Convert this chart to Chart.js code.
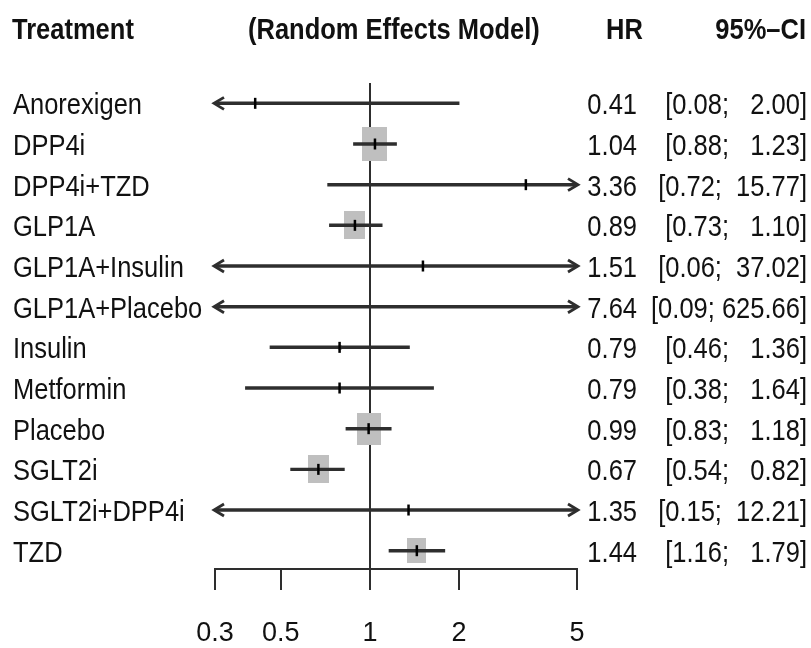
<!DOCTYPE html>
<html>
<head>
<meta charset="utf-8">
<script src="https://cdn.jsdelivr.net/npm/chart.js@4"></script>
<style>
  html, body { margin: 0; padding: 0; background: #fff; }
  #wrap { width: 811px; height: 648px; }
</style>
</head>
<body>
<div id="wrap"><canvas id="forest" width="811" height="648"></canvas></div>
<script>
// dados
const treatments = ["Anorexigen", "DPP4i", "DPP4i+TZD", "GLP1A", "GLP1A+Insulin", "GLP1A+Placebo",
  "Insulin", "Metformin", "Placebo", "SGLT2i", "SGLT2i+DPP4i", "TZD"];
const hr = [0.41, 1.04, 3.36, 0.89, 1.51, 7.64, 0.79, 0.79, 0.99, 0.67, 1.35, 1.44];
const ciLower = [0.08, 0.88, 0.72, 0.73, 0.06, 0.09, 0.46, 0.38, 0.83, 0.54, 0.15, 1.16];
const ciUpper = [2.00, 1.23, 15.77, 1.10, 37.02, 625.66, 1.36, 1.64, 1.18, 0.82, 12.21, 1.79];
const weights = [0.2, 25, 0.1, 17.6, 0.05, 0.05, 0.6, 0.4, 24, 17.6, 0.05, 14.4];
const xTicks = [0.3, 0.5, 1, 2, 5];

const LINE = "#2e2e2e";
const TEXT = "#111111";
const FONT = '"Liberation Sans", Arial, sans-serif';

// caixas cinza proporcionais ao peso
function caixa(peso) {
  const w = Math.max(1, Math.round(5 * Math.sqrt(peso)));
  const h = Math.max(1, Math.round(w * 1.34));
  const c = document.createElement("canvas");
  c.width = w; c.height = h;
  const g = c.getContext("2d");
  g.fillStyle = "#bfbfbf";
  g.fillRect(0, 0, w, h);
  return c;
}
const caixas = weights.map(caixa);

// texto um pouco condensado, como no original
function texto(ctx, s, x, y, align, bold) {
  ctx.save();
  ctx.font = (bold ? "bold " : "") + "30px " + FONT;
  ctx.fillStyle = TEXT;
  ctx.translate(x, y);
  ctx.scale(0.85, 1);
  ctx.textAlign = align;
  ctx.textBaseline = "alphabetic";
  ctx.fillText(s, 0, 0);
  ctx.restore();
}

function fmtCI(lo, up) {
  return "[" + lo.toFixed(2) + ";" + (" " + up.toFixed(2)).padStart(7, " ") + "]";
}

// setas e textos
const forestPlugin = {
  id: "forest",
  afterDatasetsDraw(chart) {
    const ctx = chart.ctx;
    const xs = chart.scales.x, ys = chart.scales.y;
    const area = chart.chartArea;
    ctx.save();
    ctx.strokeStyle = LINE;
    ctx.lineWidth = 2.8;
    treatments.forEach((t, i) => {
      const y = ys.getPixelForValue(i);
      if (ciLower[i] < xs.min) {
        const tip = area.left - 1;
        ctx.beginPath();
        ctx.moveTo(tip + 10, y - 6); ctx.lineTo(tip, y); ctx.lineTo(tip + 10, y + 6);
        ctx.stroke();
      }
      if (ciUpper[i] > xs.max) {
        const tip = area.right + 1;
        ctx.beginPath();
        ctx.moveTo(tip - 10, y - 6); ctx.lineTo(tip, y); ctx.lineTo(tip - 10, y + 6);
        ctx.stroke();
      }
    });
    ctx.restore();
  },
  afterDraw(chart) {
    const ctx = chart.ctx;
    const ys = chart.scales.y;
    texto(ctx, "Treatment", 12, 39, "left", true);
    texto(ctx, "(Random Effects Model)", 248, 39, "left", true);
    texto(ctx, "HR", 606, 39, "left", true);
    texto(ctx, "95%\u2013CI", 806, 39, "right", true);
    treatments.forEach((t, i) => {
      const y = ys.getPixelForValue(i) + 11;
      texto(ctx, t, 13, y, "left", false);
      texto(ctx, hr[i].toFixed(2), 637, y, "right", false);
      texto(ctx, fmtCI(ciLower[i], ciUpper[i]), 807, y, "right", false);
    });
  }
};

new Chart(document.getElementById("forest"), {
  type: "scatter",
  data: {
    datasets: [
      {
        type: "scatter",
        label: "peso",
        data: hr.map((v, i) => ({ x: v, y: i })),
        pointStyle: caixas,
        pointRadius: 1,
        order: 3
      },
      {
        type: "bar",
        label: "IC 95%",
        indexAxis: "y",
        data: treatments.map((t, i) => ({ x: [ciLower[i], ciUpper[i]], y: i })),
        backgroundColor: LINE,
        borderWidth: 0,
        barThickness: 2.8,
        grouped: false,
        order: 2
      },
      {
        type: "scatter",
        label: "HR",
        data: hr.map((v, i) => ({ x: v, y: i })),
        pointStyle: "line",
        pointRotation: 90,
        pointRadius: 5.5,
        borderColor: "#000",
        borderWidth: 2.5,
        order: 1
      }
    ]
  },
  options: {
    responsive: false,
    animation: false,
    layout: { padding: { left: 215, right: 234, top: 83, bottom: 0 } },
    plugins: { legend: { display: false }, tooltip: { enabled: false } },
    scales: {
      x: {
        type: "logarithmic",
        min: 0.3,
        max: 5,
        offset: false,
        afterBuildTicks(axis) { axis.ticks = xTicks.map(v => ({ value: v })); },
        afterFit(axis) { axis.height = 79; },
        grid: {
          drawOnChartArea: true,
          offset: false,
          color: c => (c.tick && c.tick.value === 1 ? LINE : "rgba(0,0,0,0)"),
          lineWidth: 2,
          tickLength: 21,
          tickColor: LINE,
          tickWidth: 2
        },
        border: { display: true, color: LINE, width: 2 },
        ticks: {
          autoSkip: false,
          maxRotation: 0,
          padding: 27,
          color: TEXT,
          font: { family: FONT, size: 27 },
          callback: v => String(v)
        }
      },
      y: {
        type: "linear",
        min: -0.5,
        max: 11.45,
        reverse: true,
        offset: false,
        display: false
      }
    }
  },
  plugins: [forestPlugin]
});
</script>
</body>
</html>
